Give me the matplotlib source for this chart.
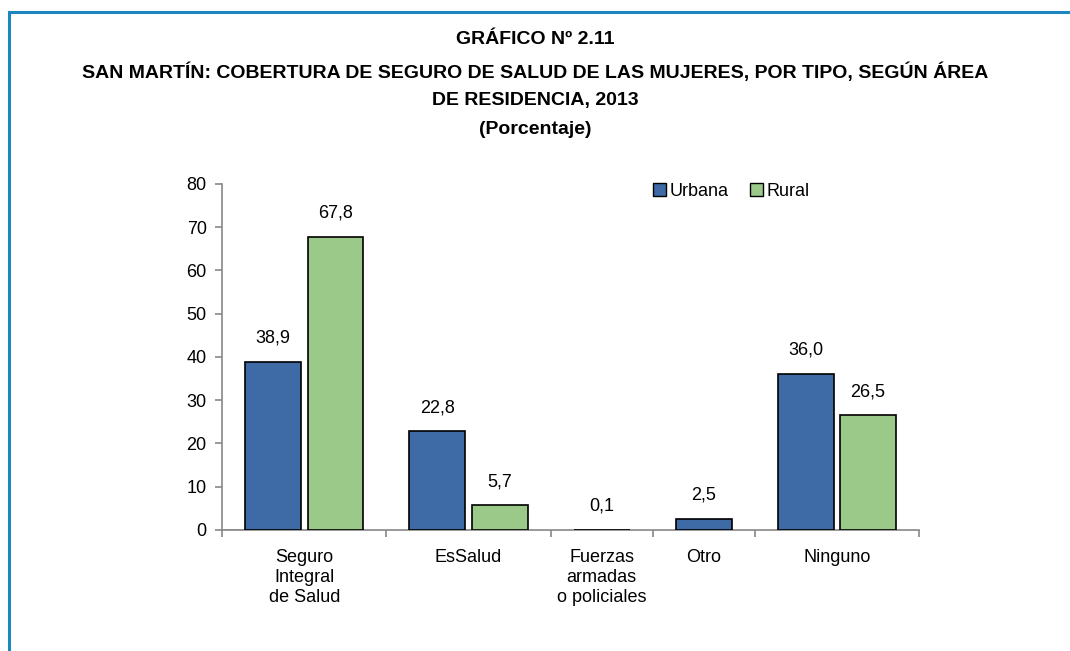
import matplotlib
matplotlib.use("Agg")
import matplotlib.pyplot as plt
from matplotlib.patches import Rectangle
import numpy as np

plt.rcParams['font.family'] = ['Liberation Sans Narrow', 'Liberation Sans', 'DejaVu Sans']

categories = ['Seguro\nIntegral\nde Salud', 'EsSalud', 'Fuerzas\narmadas\no policiales', 'Otro', 'Ninguno']
# category widths as in the original (two narrow groups with a single bar)
cat_widths = [1.0, 1.0, 0.62, 0.62, 1.0]
urbana = [38.9, 22.8, 0.1, 2.5, 36.0]
rural = [67.8, 5.7, None, None, 26.5]
labels_u = ['38,9', '22,8', '0,1', '2,5', '36,0']
labels_r = ['67,8', '5,7', None, None, '26,5']

c_urb = '#3E6BA5'
c_rur = '#9BC98A'

fig = plt.figure(figsize=(10.70, 6.51), dpi=100)
ax = fig.add_axes([0.2075, 0.1859, 0.6514, 0.5315])

bounds = np.concatenate([[0], np.cumsum(cat_widths)])
centers = (bounds[:-1] + bounds[1:]) / 2
w = 0.34
off = 0.19

for i in range(len(categories)):
    if rural[i] is None:
        xs = [(centers[i], urbana[i], labels_u[i], c_urb)]
    else:
        xs = [(centers[i] - off, urbana[i], labels_u[i], c_urb),
              (centers[i] + off, rural[i], labels_r[i], c_rur)]
    for x, v, lab, col in xs:
        ax.bar(x, v, width=w, color=col, edgecolor='black', linewidth=1.2, zorder=3)
        ax.annotate(lab, (x, v), xytext=(0, 11), textcoords='offset points',
                    ha='center', va='bottom', fontsize=13)

ax.bar([0], [0], color=c_urb, edgecolor='black', label='Urbana')
ax.bar([0], [0], color=c_rur, edgecolor='black', label='Rural')

ax.set_xlim(bounds[0], bounds[-1])
ax.set_ylim(0, 80)
ax.set_yticks(range(0, 81, 10))
ax.set_xticks(bounds)
ax.set_xticklabels([])
ax.set_xticks(centers, minor=True)
ax.set_xticklabels(categories, minor=True, fontsize=13, linespacing=1.2)
ax.tick_params(axis='x', which='major', direction='out', length=5, color='#888888', width=1.2)
ax.tick_params(axis='x', which='minor', length=0, pad=14)
ax.tick_params(axis='y', direction='out', length=5, color='#888888', width=1.2, labelsize=13, pad=6)
for s in ['top', 'right']:
    ax.spines[s].set_visible(False)
for s in ['left', 'bottom']:
    ax.spines[s].set_color('#888888')
    ax.spines[s].set_linewidth(1.2)

ax.legend(loc='upper left', bbox_to_anchor=(0.595, 1.05), ncol=2, frameon=False,
          fontsize=13, handlelength=0.7, handleheight=0.7, handletextpad=0.2,
          columnspacing=1.2)

title_size = 14
fig.text(0.5, 1 - 40 / 651, 'GRÁFICO Nº 2.11', ha='center', va='center',
         fontsize=title_size, fontweight='bold')
fig.text(0.5, 1 - 72 / 651,
         'SAN MARTÍN: COBERTURA DE SEGURO DE SALUD DE LAS MUJERES, POR TIPO, SEGÚN ÁREA',
         ha='center', va='center', fontsize=title_size, fontweight='bold')
fig.text(0.5, 1 - 101 / 651, 'DE RESIDENCIA, 2013', ha='center', va='center',
         fontsize=title_size, fontweight='bold')
fig.text(0.5, 1 - 130 / 651, '(Porcentaje)', ha='center', va='center',
         fontsize=title_size, fontweight='bold')

fig.patches.append(Rectangle((9 / 1070, -0.1), 1.2, 1 - 12 / 651 + 0.1,
                             transform=fig.transFigure, fill=False,
                             edgecolor='#1B87BE', linewidth=2.2))

fig.savefig('out.png', dpi=100)
